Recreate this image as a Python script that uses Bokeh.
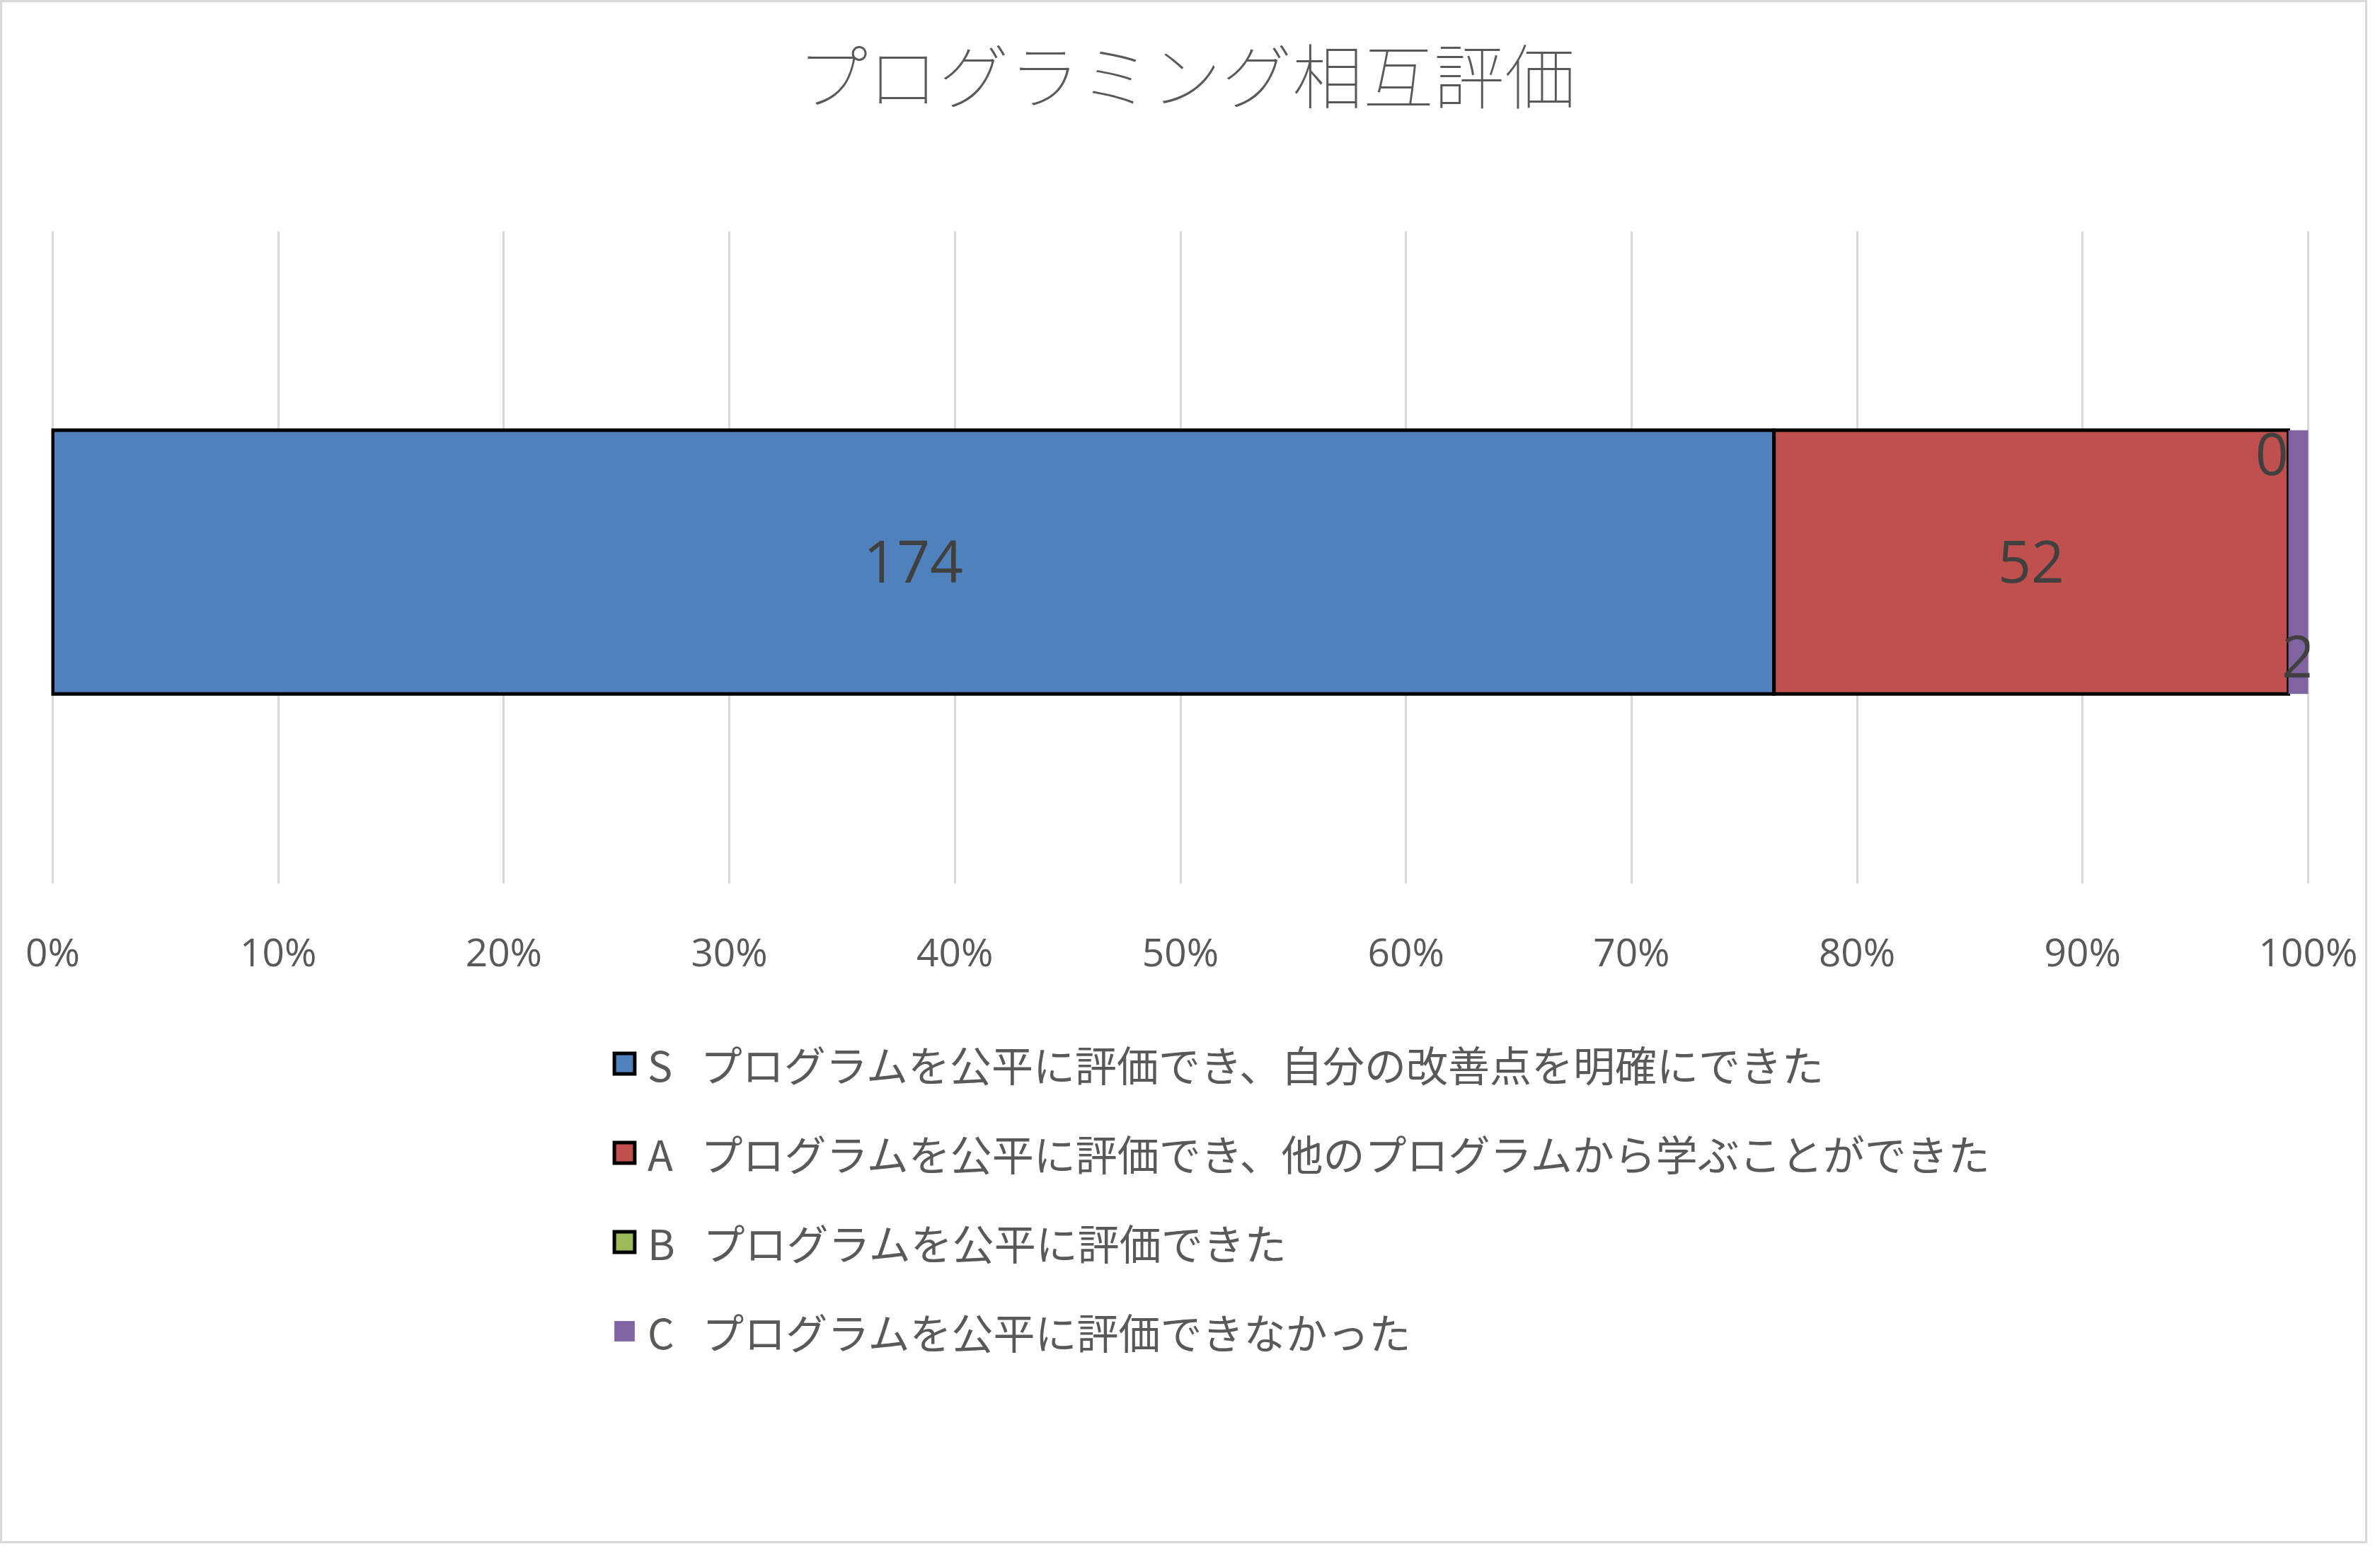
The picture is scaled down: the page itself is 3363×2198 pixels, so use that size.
from bokeh.plotting import figure
from bokeh.layouts import column
from bokeh.models import (Range1d, FixedTicker, NumeralTickFormatter, Legend, LegendItem,
                          ColumnDataSource, Label)
from bokeh.core.properties import value
from bokeh.embed import file_html
from bokeh.resources import INLINE

# ---------------- data ----------------
title_text = "プログラミング相互評価"
series_keys = ["S", "A", "B", "C"]
series_labels = [
    "S   プログラムを公平に評価でき、自分の改善点を明確にできた",
    "A   プログラムを公平に評価でき、他のプログラムから学ぶことができた",
    "B   プログラムを公平に評価できた",
    "C   プログラムを公平に評価できなかった",
]
series_values = [174, 52, 0, 2]
series_colors = ["#4F81BD", "#C0504D", "#9BBB59", "#8064A2"]
series_outline = ["black", "black", "black", None]
x_ticks = [0.0, 0.1, 0.2, 0.3, 0.4, 0.5, 0.6, 0.7, 0.8, 0.9, 1.0]

# ---------------- derived ----------------
total = float(sum(series_values))
fractions = [v / total for v in series_values]
lefts, rights = [], []
acc = 0.0
for f in fractions:
    lefts.append(acc)
    acc += f
    rights.append(acc)

W = 3345
H_TITLE, H_CHART, H_LEG = 326, 1080, 774
FL, FR = 69, 3260
FB = 922
BORDER = "3px solid #d9d9d9"


def blank(fig):
    fig.outline_line_color = None
    fig.background_fill_color = "white"
    fig.border_fill_color = "white"
    fig.xaxis.visible = False
    fig.yaxis.visible = False
    fig.xgrid.visible = False
    fig.ygrid.visible = False


# ---------------- title strip ----------------
pt = figure(width=W, height=H_TITLE, output_backend="svg", toolbar_location=None,
            x_range=Range1d(0, FR - FL), y_range=Range1d(0, H_TITLE),
            min_border_left=FL, min_border_right=W - FR, min_border_top=0, min_border_bottom=0)
blank(pt)
pt.styles = {"border-top": BORDER, "border-left": BORDER, "border-right": BORDER,
             "box-sizing": "border-box"}
pt.add_layout(Label(x=W / 2 - FL, y=H_TITLE - 99, text=title_text, text_align="center",
                    text_baseline="middle", text_font="Noto Sans CJK JP",
                    text_font_size="100px", text_color="#595959"))

# ---------------- chart ----------------
pad = 2.0 / (FR - FL - 4)
p = figure(width=W, height=H_CHART, output_backend="svg", toolbar_location=None,
           x_range=Range1d(-pad, 1 + pad), y_range=Range1d(0, 1),
           min_border_left=FL, min_border_right=W - FR,
           min_border_top=0, min_border_bottom=H_CHART - FB)
p.styles = {"border-left": BORDER, "border-right": BORDER, "box-sizing": "border-box"}
p.outline_line_color = None
p.background_fill_color = "white"
p.border_fill_color = "white"
p.yaxis.visible = False
p.ygrid.visible = False
p.xgrid.grid_line_color = "#d9d9d9"
p.xgrid.grid_line_width = 3
p.xaxis.ticker = FixedTicker(ticks=x_ticks)
p.xaxis.formatter = NumeralTickFormatter(format="0%")
p.xaxis.axis_line_color = None
p.xaxis.major_tick_line_color = None
p.xaxis.minor_tick_line_color = None
p.xaxis.major_tick_out = 0
p.xaxis.major_tick_in = 0
p.xaxis.major_label_standoff = 57
p.xaxis.major_label_text_font = "Open Sans"
p.xaxis.major_label_text_font_size = "55px"
p.xaxis.major_label_text_color = "#595959"

bar_y = 0.493
bar_h = 0.404
for i, k in enumerate(series_keys):
    src = ColumnDataSource(dict(y=[bar_y], left=[lefts[i]], right=[rights[i]]))
    p.hbar(y="y", left="left", right="right", height=bar_h, source=src,
           fill_color=series_colors[i],
           line_color=series_outline[i], line_width=5 if series_outline[i] else 0,
           line_join="miter")

lab_x = [(lefts[0] + rights[0]) / 2, (lefts[1] + rights[1]) / 2, rights[2], (lefts[3] + rights[3]) / 2]
lab_y = [bar_y, bar_y, 0.658, 0.348]
lab_align = ["center", "center", "right", "center"]
p.text(x=lab_x, y=lab_y, text=[str(v) for v in series_values],
       text_align=lab_align, text_baseline="middle",
       text_font=value("Open Sans"), text_font_size="82px", text_color="#404040")

# ---------------- legend strip ----------------
ITEM_H, SPACING = 85, 41
LEG_TOP = 53.5
legend_h = 4 * ITEM_H + 3 * SPACING
pl = figure(width=W, height=H_LEG, output_backend="svg", toolbar_location=None,
            x_range=Range1d(0, 1), y_range=Range1d(0, 1),
            min_border_left=FL, min_border_right=W - FR,
            min_border_top=0, min_border_bottom=0)
blank(pl)
pl.styles = {"border-bottom": BORDER, "border-left": BORDER, "border-right": BORDER,
             "box-sizing": "border-box"}
items = []
for i, k in enumerate(series_keys):
    # collapsed (zero-size) copies of each series' bar: they only supply the legend swatches
    src = ColumnDataSource(dict(y=[bar_y], left=[lefts[i]], right=[lefts[i]]))
    r = pl.hbar(y="y", left="left", right="right", height=0, source=src,
                fill_color=series_colors[i],
                line_color=series_outline[i], line_width=5 if series_outline[i] else 0,
                line_join="miter")
    items.append(LegendItem(label=series_labels[i], renderers=[r]))

legend = Legend(items=items, location=(861 - FL, H_LEG - LEG_TOP - legend_h),
                orientation="vertical",
                label_text_font="Noto Sans CJK JP", label_text_font_size="59px",
                label_text_color="#595959", label_text_baseline="middle",
                glyph_width=36, glyph_height=36,
                label_height=ITEM_H, label_standoff=15, spacing=SPACING, padding=0,
                margin=0, border_line_color=None, background_fill_alpha=0)
pl.add_layout(legend, "center")

layout = column(pt, p, pl, spacing=0)
open("out.html", "w").write(file_html(layout, INLINE))
